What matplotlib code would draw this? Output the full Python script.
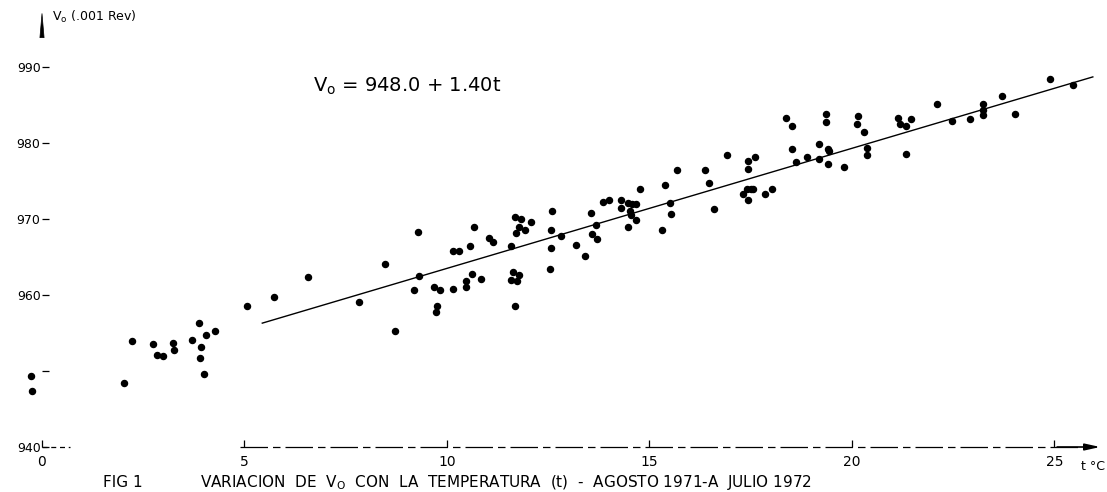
import matplotlib
matplotlib.use("Agg")
import matplotlib.pyplot as plt

# temperatura t (°C) y V0 (.001 Rev)
temp = [-0.27, -0.24, 2.03, 2.23, 2.73, 2.85, 2.98, 3.23, 3.25, 3.71,
        3.87, 3.93, 3.90, 4.00, 4.04, 4.28, 5.06, 5.74, 6.58, 7.84,
        8.46, 8.72, 9.28, 9.19, 9.32, 9.69, 9.83, 9.75, 9.73, 10.16,
        10.30, 10.16, 10.46, 10.46, 10.62, 10.58, 10.66, 10.84, 11.04, 11.14,
        11.58, 11.62, 11.57, 11.72, 11.77, 11.68, 11.67, 11.83, 11.79, 11.70,
        11.93, 12.07, 12.60, 12.58, 12.81, 12.58, 12.54, 13.19, 13.41, 13.56,
        13.67, 13.57, 13.70, 13.85, 14.00, 14.31, 14.31, 14.46, 14.48, 14.58,
        14.68, 14.52, 14.54, 14.67, 14.77, 15.38, 15.67, 15.52, 15.53, 15.32,
        16.37, 16.46, 16.59, 16.92, 17.43, 17.44, 17.61, 17.32, 17.42, 17.50,
        17.57, 17.43, 17.85, 18.03, 18.38, 18.51, 18.52, 18.61, 18.89, 19.18,
        19.18, 19.41, 19.43, 19.41, 19.80, 19.36, 19.37, 20.16, 20.13, 20.30,
        20.38, 20.38, 21.15, 21.20, 21.33, 21.45, 21.33, 22.09, 22.48, 22.91,
        23.23, 23.23, 23.23, 23.71, 24.02, 24.90, 25.46]
v0 = [949.4, 947.4, 948.4, 954.0, 953.5, 952.1, 952.0, 953.7, 952.7, 954.1,
      956.3, 953.1, 951.7, 949.6, 954.8, 955.3, 958.6, 959.8, 962.4, 959.1,
      964.1, 955.2, 968.3, 960.6, 962.5, 961.1, 960.6, 958.6, 957.7, 965.8,
      965.8, 960.8, 961.8, 961.0, 962.7, 966.4, 968.9, 962.1, 967.5, 967.0,
      966.5, 963.0, 962.0, 961.9, 962.6, 958.5, 970.2, 970.0, 968.9, 968.1,
      968.6, 969.6, 971.1, 968.6, 967.7, 966.2, 963.4, 966.6, 965.1, 970.8,
      969.2, 968.0, 967.4, 972.3, 972.5, 972.5, 971.4, 968.9, 972.1, 972.0,
      972.0, 971.0, 970.5, 969.9, 974.0, 974.5, 976.5, 972.1, 970.6, 968.6,
      976.4, 974.8, 971.3, 978.4, 977.6, 976.6, 978.1, 973.3, 973.9, 973.9,
      973.9, 972.5, 973.3, 973.9, 983.3, 982.2, 979.2, 977.5, 978.2, 979.9,
      977.9, 979.2, 978.9, 977.2, 976.8, 983.8, 982.8, 983.6, 982.5, 981.5,
      979.3, 978.4, 983.3, 982.5, 982.3, 983.1, 978.5, 985.2, 982.9, 983.1,
      985.2, 984.3, 983.7, 986.2, 983.8, 988.4, 987.6]

# recta de ajuste tal como esta dibujada
fit_t = [5.44, 25.95]
fit_v = [956.3, 988.7]

xticks = [0, 5, 10, 15, 20, 25]
yticks = [940, 950, 960, 970, 980, 990]
ylabels = ['940', '', '960', '970', '980', '990']

fig = plt.figure(figsize=(11.07, 4.92), dpi=100)
ax = fig.add_axes([0.03794, 0.09146, 0.96206, 0.90854])
ax.set_xlim(0, 26.30)
ax.set_ylim(940, 998.82)
for s in ax.spines.values():
    s.set_visible(False)

ax.scatter(temp, v0, s=19, color='black', clip_on=False, zorder=3)
ax.plot(fit_t, fit_v, color='black', lw=1.0)

ax.set_xticks(xticks)
ax.set_xticklabels([str(x) for x in xticks])
ax.set_yticks(yticks)
ax.set_yticklabels(ylabels)
ax.tick_params(axis='x', direction='in', length=5, width=0.9, pad=6, labelsize=10)
ax.tick_params(axis='y', direction='in', length=5, width=0.9, pad=1, labelsize=9)

# eje x discontinuo (trazo borroso del original) con flecha
ax.plot([0, 0.7], [940, 940], color='black', lw=0.9, ls=(0, (4, 3)), clip_on=False)
ax.plot([4.9, 25.7], [940, 940], color='black', lw=0.9, ls=(0, (22, 4, 6, 4)), clip_on=False)
ax.annotate('', xy=(26.2, 940), xytext=(25.0, 940),
            arrowprops=dict(arrowstyle='-|>,head_length=0.9,head_width=0.2', color='black', lw=1.2),
            annotation_clip=False)
ax.annotate('t °C', xy=(25.95, 940), xytext=(0, -9), textcoords='offset points',
            ha='center', va='top', fontsize=9, annotation_clip=False)

# flecha del eje y
ax.annotate('', xy=(0, 997.4), xytext=(0, 993.5),
            arrowprops=dict(arrowstyle='wedge,tail_width=0.3', color='black', lw=0.5),
            annotation_clip=False)
ax.text(0.25, 996.6, 'V$_{\\mathrm{o}}$ (.001 Rev)', fontsize=9, va='center', ha='left')

ax.text(6.69, 987.4, 'V$_{\\mathrm{o}}$ = 948.0 + 1.40t', fontsize=14, va='center', ha='left')

fig.text(103 / 1107, 0.02, 'FIG 1', fontsize=11, va='center', ha='left')
fig.text(200 / 1107, 0.02,
         'VARIACION  DE  V$_{\\mathrm{O}}$  CON  LA  TEMPERATURA  (t)  -  AGOSTO 1971-A  JULIO 1972',
         fontsize=11, va='center', ha='left')

fig.savefig('out.png', dpi=100)
